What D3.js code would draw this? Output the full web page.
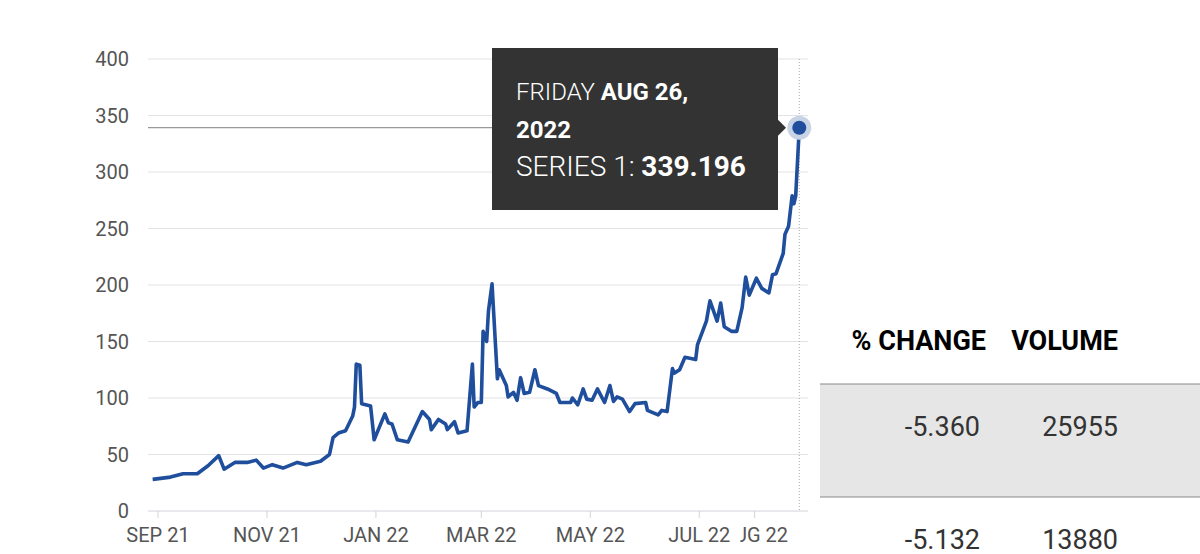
<!DOCTYPE html>
<html><head><meta charset="utf-8">
<script src="https://cdn.jsdelivr.net/npm/d3@7"></script>
<style>
body{margin:0;background:#fff;font-family:Roboto,"Liberation Sans",sans-serif}
</style></head>
<body><svg id="chart" width="1200" height="554"></svg>
<script>
// days after 2021-09-01, value
const dayOffsets = [-3,7,14,22,28,34,37,43,50,55,59,64,70,78,83,91,96,98,101,105,109,110,111,113,114,119,121,127,129,131,134,140,148,152,153,157,161,162,166,168,173,176,177,179,181,182,184,185,187,190,191,195,196,199,201,203,205,208,211,213,218,223,225,231,232,235,238,240,243,246,250,253,255,257,260,264,267,273,274,280,282,285,288,289,292,295,301,302,307,309,313,315,317,321,324,327,329,331,335,338,342,344,346,350,351,353,355,356,357,359];
const values = [28,30,33,33,40,49,37,43,43,45,38,41,38,43,41,44,50,65,69,71,84,92,130,129,95,93,63,86,78,77,63,61,88,81,72,81,77,72,79,69,71,130,92,96,96,159,150,177,201,117,125,111,101,105,98,118,104,105,125,111,108,104,96,96,100,94,108,99,98,108,96,111,97,101,99,88,95,96,89,85,89,88,126,122,125,136,134,147,168,186,168,184,163,159,159,180,207,191,206,197,193,209,210,228,245,252,279,272,279,339.196];
const yTicks = [0,50,100,150,200,250,300,350,400];
const xTickMonths = ["2021-09-01","2021-11-01","2022-01-01","2022-03-01","2022-05-01","2022-08-01","2022-07-01"];
const tableHeaders = ["% CHANGE","VOLUME"];
const tableRows = [["-5.360","25955"],["-5.132","13880"]];

const start = new Date(2021,8,1);
const data = dayOffsets.map((d,i)=>({date:d3.timeDay.offset(start,d),value:values[i]}));
const svg = d3.select("#chart");
const x = d3.scaleTime().domain([start,new Date(2022,8,1)]).range([158,810]);
const y = d3.scaleLinear().domain([0,400]).range([511,59]);
const fmt = d3.timeFormat("%b %y");

svg.append("g").selectAll("line").data(yTicks.slice(1)).join("line")
  .attr("x1",148).attr("x2",808).attr("y1",d=>y(d)).attr("y2",d=>y(d))
  .attr("stroke","#e3e3e6").attr("stroke-width",1);
svg.append("g").selectAll("text").data(yTicks).join("text")
  .attr("x",129).attr("y",d=>y(d)+7).attr("text-anchor","end")
  .attr("font-size",20).attr("fill","#555").text(d=>d);
svg.append("line").attr("x1",148).attr("x2",808).attr("y1",y(0)).attr("y2",y(0)).attr("stroke","#d0d4dc");

const xt = svg.append("g");
xTickMonths.forEach(s=>{
  const d = d3.timeParse("%Y-%m-%d")(s), px = x(d);
  const g = xt.append("g");
  g.append("line").attr("x1",px).attr("x2",px).attr("y1",511).attr("y2",518).attr("stroke","#d0d4dc");
  const t = g.append("text").attr("x",px).attr("y",542).attr("text-anchor","middle")
    .attr("font-size",20).attr("fill","#555").text(fmt(d).toUpperCase());
  if (s==="2022-07-01") {
    const b = t.node().getBBox();
    g.insert("rect","text").attr("x",b.x-2).attr("y",b.y).attr("width",b.width+12).attr("height",b.height).attr("fill","#fff");
  }
});

// crosshairs
const last = data[data.length-1];
svg.append("line").attr("x1",x(last.date)).attr("x2",x(last.date)).attr("y1",59).attr("y2",511)
  .attr("stroke","#aaa").attr("stroke-dasharray","1,2");
svg.append("line").attr("x1",148).attr("x2",492).attr("y1",y(last.value)).attr("y2",y(last.value))
  .attr("stroke","#999").attr("stroke-width",1.2);

svg.append("path").datum(data).attr("fill","none").attr("stroke","#1f4e9c").attr("stroke-width",3.6)
  .attr("stroke-linejoin","round")
  .attr("d",d3.line().x(d=>x(d.date)).y(d=>y(d.value)));
svg.append("circle").attr("cx",x(last.date)).attr("cy",y(last.value)).attr("r",12).attr("fill","#c9d3e6");
svg.append("circle").attr("cx",x(last.date)).attr("cy",y(last.value)).attr("r",7).attr("fill","#1f4e9c");

// tooltip
const tip = svg.append("g");
tip.append("rect").attr("x",492).attr("y",48).attr("width",286).attr("height",162).attr("fill","#333");
tip.append("path").attr("d",`M778,${y(last.value)-8}L786,${y(last.value)}L778,${y(last.value)+8}Z`).attr("fill","#333");
const lines = [[["FRIDAY ",300],["AUG 26,",700]],[["2022",700]],[["SERIES 1: ",300],[d3.format(".3f")(last.value),700]]];
lines.forEach((ln,i)=>{
  const t = tip.append("text").attr("x",516).attr("y",100+i*38).attr("font-size",i===2?28:24).attr("fill","#fff");
  ln.forEach(([s,w])=>t.append("tspan").attr("font-weight",w).text(s));
});

// table
const tb = svg.append("g").attr("font-size",27);
tb.append("text").attr("x",986).attr("y",350).attr("text-anchor","end").attr("font-weight",700).text(tableHeaders[0]);
tb.append("text").attr("x",1118).attr("y",350).attr("text-anchor","end").attr("font-weight",700).text(tableHeaders[1]);
tb.append("rect").attr("x",820).attr("y",384).attr("width",380).attr("height",113).attr("fill","#e6e6e6");
tb.append("line").attr("x1",820).attr("x2",1200).attr("y1",384).attr("y2",384).attr("stroke","#888");
tb.append("line").attr("x1",820).attr("x2",1200).attr("y1",497).attr("y2",497).attr("stroke","#888");
tableRows.forEach((r,i)=>{
  tb.append("text").attr("x",980).attr("y",436+i*113).attr("text-anchor","end").attr("fill","#333").text(r[0]);
  tb.append("text").attr("x",1118).attr("y",436+i*113).attr("text-anchor","end").attr("fill","#333").text(r[1]);
});
</script></body></html>
